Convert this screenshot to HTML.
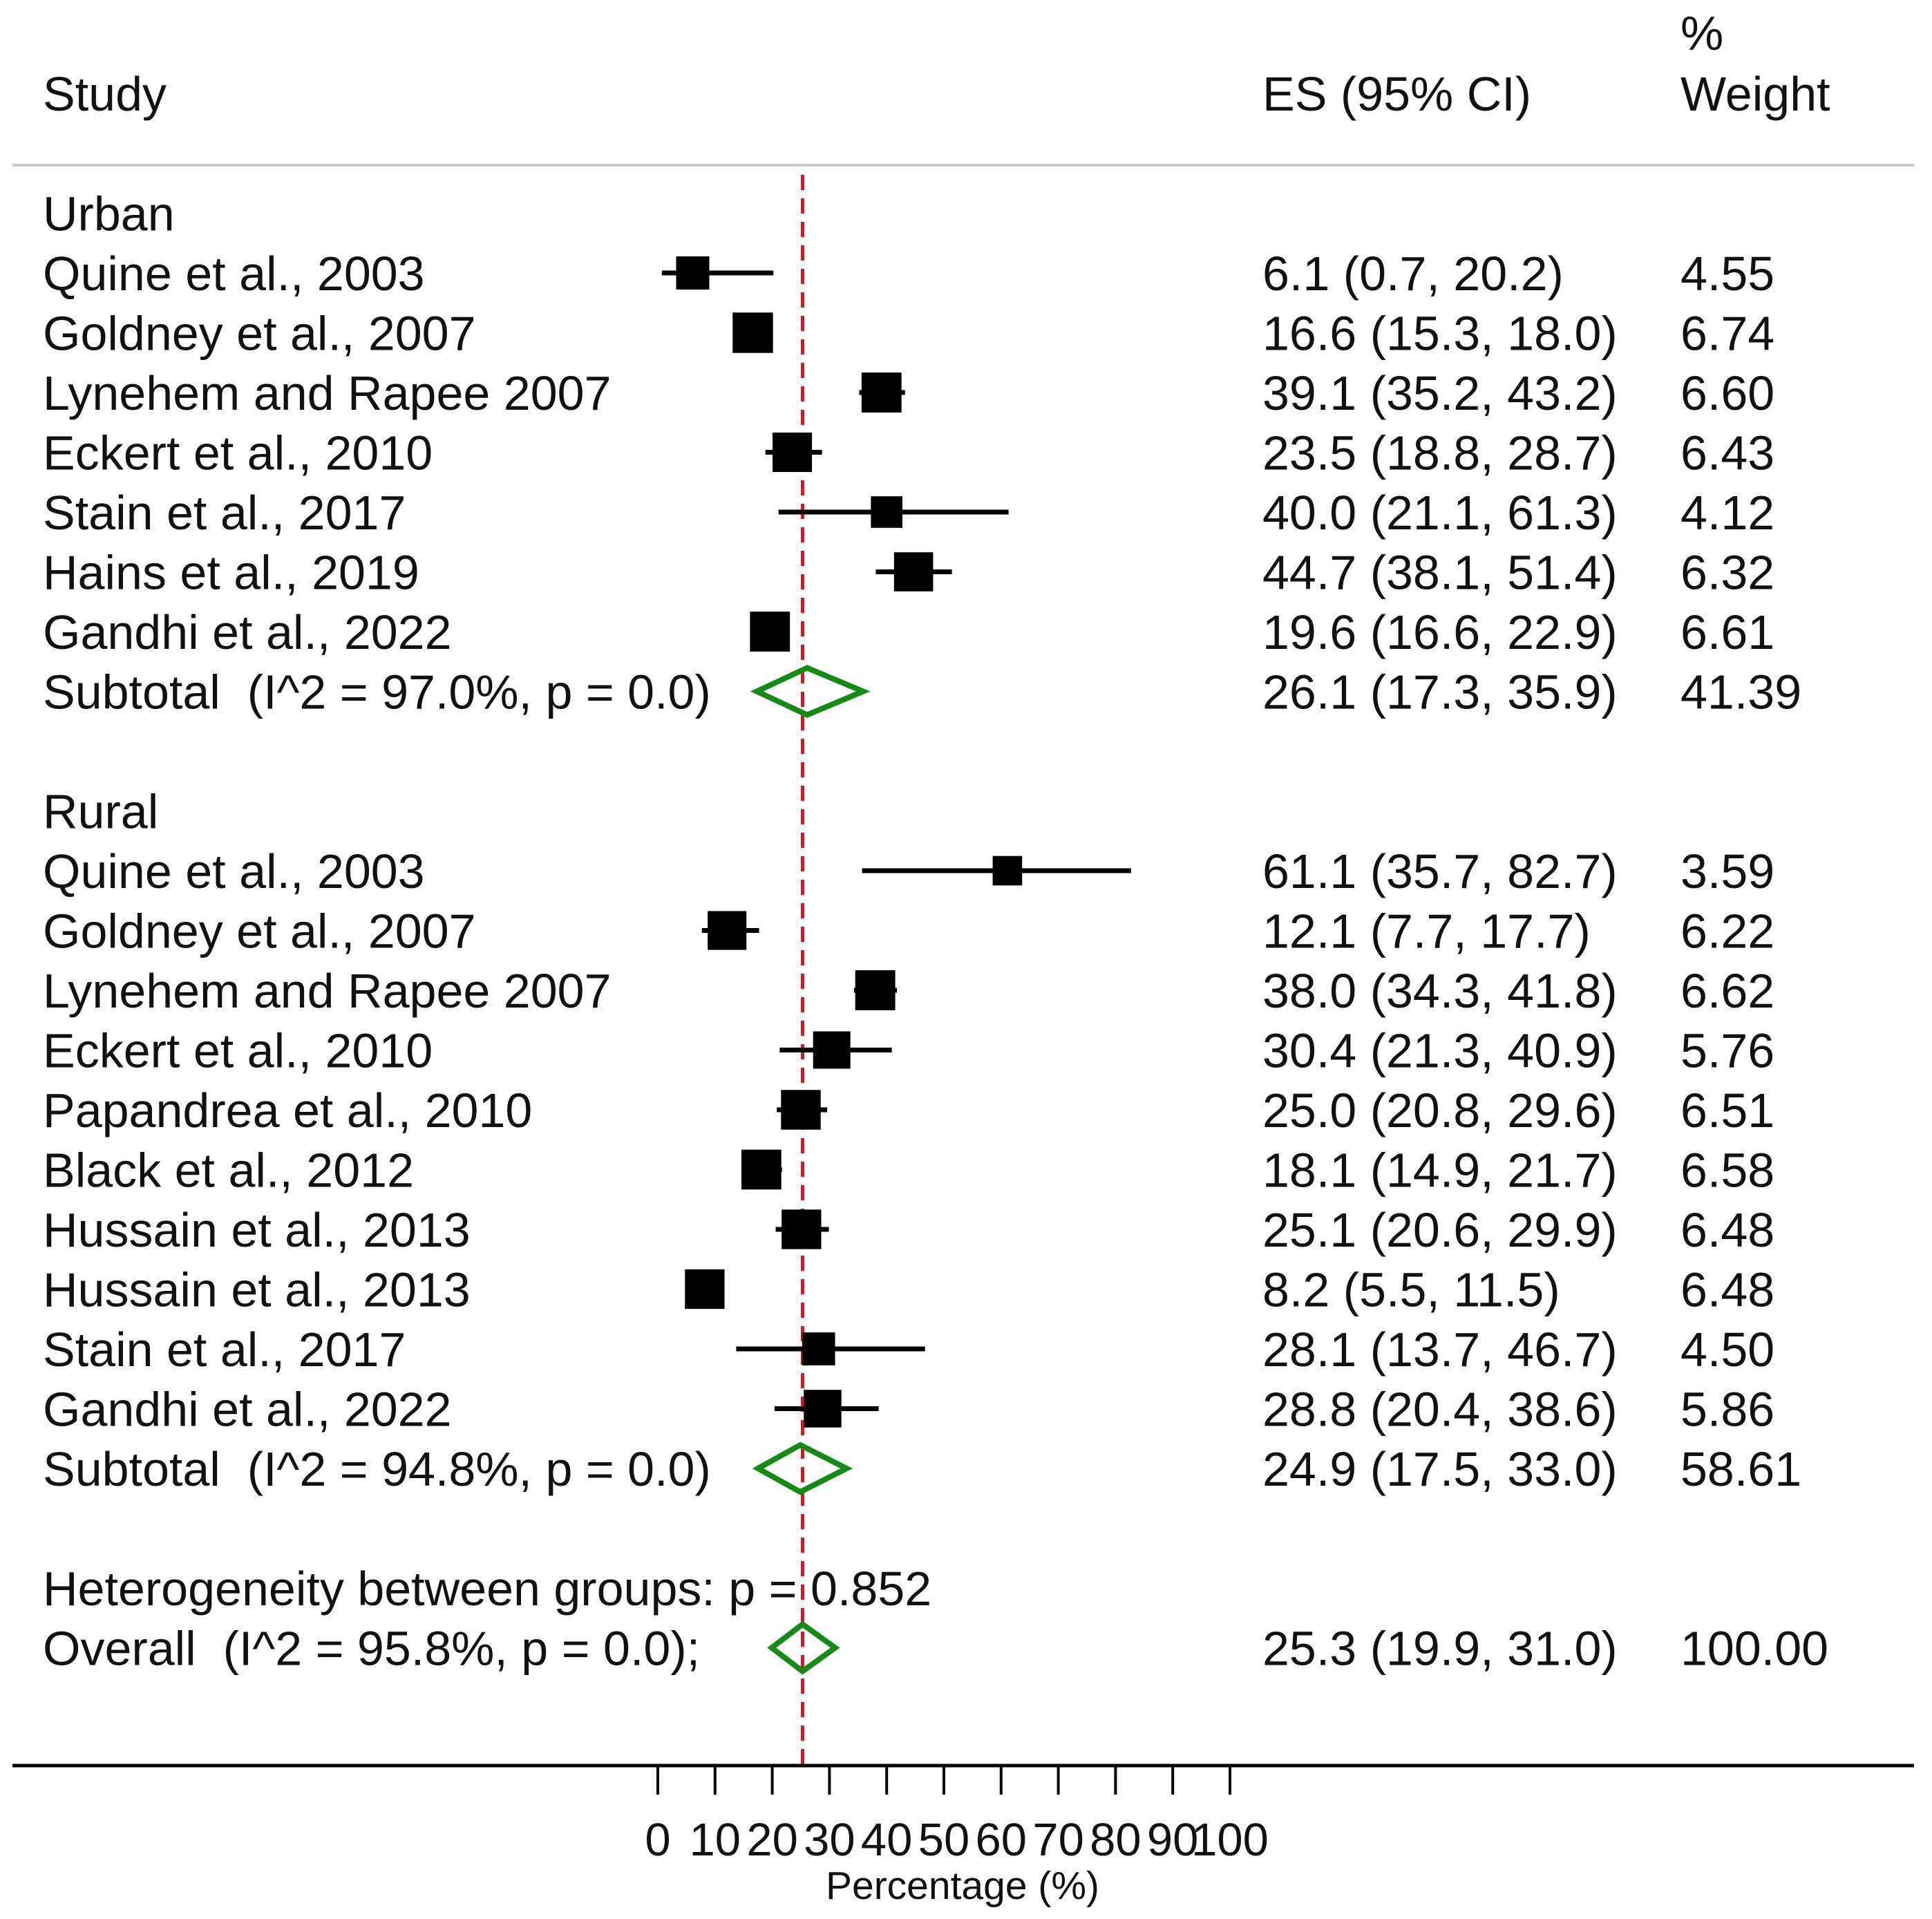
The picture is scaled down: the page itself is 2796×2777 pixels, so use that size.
<!DOCTYPE html>
<html><head><meta charset="utf-8">
<style>
html,body{margin:0;padding:0;background:#fff;}
svg{display:block;}
text{font-family:"Liberation Sans",Arial,sans-serif;fill:#111;white-space:pre;}
</style></head>
<body>
<svg id="chart" width="2796" height="2777" viewBox="0 0 2796 2777" xmlns="http://www.w3.org/2000/svg" xml:space="preserve">
  <text x="62" y="160" font-size="70">Study</text>
  <text x="1827" y="160" font-size="70">ES (95% CI)</text>
  <text x="2432" y="72" font-size="70">%</text>
  <text x="2432" y="160" font-size="70">Weight</text>
  <line x1="18" y1="239" x2="2770" y2="239" stroke="#c8c8c8" stroke-width="4"/>
  <g id="rows"></g>
  <g id="axis"></g>
</svg>
<script>
// Data
const rowLabels = ["Urban","Quine et al., 2003","Goldney et al., 2007","Lynehem and Rapee 2007","Eckert et al., 2010","Stain et al., 2017","Hains et al., 2019","Gandhi et al., 2022","Subtotal  (I^2 = 97.0%, p = 0.0)","","Rural","Quine et al., 2003","Goldney et al., 2007","Lynehem and Rapee 2007","Eckert et al., 2010","Papandrea et al., 2010","Black et al., 2012","Hussain et al., 2013","Hussain et al., 2013","Stain et al., 2017","Gandhi et al., 2022","Subtotal  (I^2 = 94.8%, p = 0.0)","","Heterogeneity between groups: p = 0.852","Overall  (I^2 = 95.8%, p = 0.0);"];
const rowTypes = ["group","study","study","study","study","study","study","study","sub","blank","group","study","study","study","study","study","study","study","study","study","study","sub","blank","text","sub"];
const esValues = [null,6.1,16.6,39.1,23.5,40.0,44.7,19.6,26.1,null,null,61.1,12.1,38.0,30.4,25.0,18.1,25.1,8.2,28.1,28.8,24.9,null,null,25.3];
const ciLower = [null,0.7,15.3,35.2,18.8,21.1,38.1,16.6,17.3,null,null,35.7,7.7,34.3,21.3,20.8,14.9,20.6,5.5,13.7,20.4,17.5,null,null,19.9];
const ciUpper = [null,20.2,18.0,43.2,28.7,61.3,51.4,22.9,35.9,null,null,82.7,17.7,41.8,40.9,29.6,21.7,29.9,11.5,46.7,38.6,33.0,null,null,31.0];
const weights = [null,4.55,6.74,6.60,6.43,4.12,6.32,6.61,41.39,null,null,3.59,6.22,6.62,5.76,6.51,6.58,6.48,6.48,4.50,5.86,58.61,null,null,100.00];
const tickValues = [0,10,20,30,40,50,60,70,80,90,100];
const tickLabels = ["0","10","20","30","40","50","60","70","80","90","100"];
const overallLine = 25.3;

const NS="http://www.w3.org/2000/svg";
const xScale = v => 952 + v*8.28;
const yRow = i => 308.5 + i*86.5;
function mk(tag, attrs, parent){const e=document.createElementNS(NS,tag);for(const k in attrs)e.setAttribute(k,attrs[k]);parent.appendChild(e);return e;}
const rows=document.getElementById('rows');
const axis=document.getElementById('axis');

const ref = mk('line',{x1:xScale(overallLine),x2:xScale(overallLine),y1:253,y2:2555,stroke:'#e8101a','stroke-width':5,'stroke-dasharray':'22 12'},rows);



rowLabels.forEach((lab,i)=>{
  const t=rowTypes[i];
  if(t==='blank') return;
  const y=yRow(i);
  const lt=mk('text',{x:62,y:y+25,'font-size':70},rows);
  lt.textContent=lab;
  
  
  if(esValues[i]==null) return;
  const es=esValues[i], lo=ciLower[i], hi=ciUpper[i], w=weights[i];
  if(t==='study'){
    const ci=mk('line',{x1:xScale(lo),x2:xScale(hi),y1:y,y2:y,stroke:'#000','stroke-width':7},rows);
    
    
    const s=22.5*Math.sqrt(w);
    const b=mk('rect',{x:xScale(es)-s/2,y:y-s/2,width:s,height:s,fill:'#000'},rows);
    
    
  } else {
    const pts=[[xScale(lo),y],[xScale(es),y-34],[xScale(hi),y],[xScale(es),y+34]].map(p=>p.join(',')).join(' ');
    const d=mk('polygon',{points:pts,fill:'none',stroke:'#158a15','stroke-width':8},rows);
    
    
  }
  const et=mk('text',{x:1827,y:y+25,'font-size':70},rows);
  et.textContent=es.toFixed(1)+' ('+lo.toFixed(1)+', '+hi.toFixed(1)+')';
  
  
  const wt=mk('text',{x:2432,y:y+25,'font-size':70},rows);
  wt.textContent=w.toFixed(2);
  
  
});

const al=mk('line',{x1:18,x2:2770,y1:2555,y2:2555,stroke:'#000','stroke-width':5},axis);


tickValues.forEach((v,k)=>{
  const tk=mk('line',{x1:xScale(v),x2:xScale(v),y1:2555,y2:2597,stroke:'#000','stroke-width':4},axis);
  
  
  const tl=mk('text',{x:xScale(v),y:2685,'font-size':67,'text-anchor':'middle'},axis);
  tl.textContent=tickLabels[k];
  
  
});
const xt=mk('text',{x:1393,y:2748,'font-size':57,'text-anchor':'middle'},axis);
xt.textContent='Percentage (%)';


</script>
</body></html>
